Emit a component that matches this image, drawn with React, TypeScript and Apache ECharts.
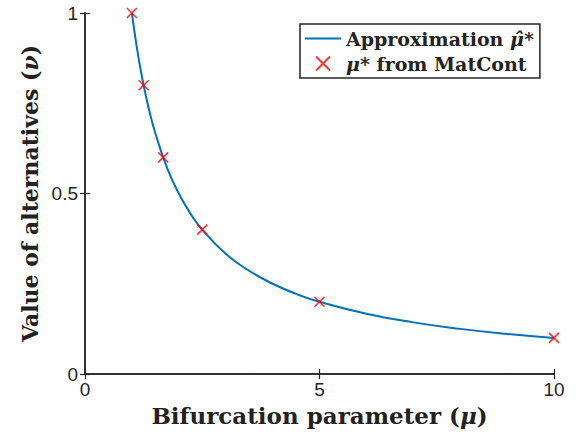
import React, { useEffect, useRef } from "react";
import * as echarts from "echarts";

// Approximation curve (mu, nu)
const curveMu = [1, 1.1, 1.2, 1.3, 1.4, 1.5, 1.75, 2, 2.25, 2.5, 3, 3.5, 4, 4.5, 5, 6, 7, 8, 9, 10];
const curveNu = [1, 0.909, 0.833, 0.769, 0.714, 0.667, 0.571, 0.5, 0.444, 0.4, 0.333, 0.286, 0.25, 0.222, 0.2, 0.167, 0.143, 0.125, 0.111, 0.1];

// MatCont points
const matMu = [1, 1.25, 1.667, 2.5, 5, 10];
const matNu = [1, 0.8, 0.6, 0.4, 0.2, 0.1];

const xTicks = [0, 5, 10];
const yTicks = [0, 0.5, 1];

const AXIS = "#262626";

export default function App() {
  const ref = useRef<HTMLDivElement>(null);
  useEffect(() => {
    document.body.style.margin = "0";
    if (!ref.current) return;
    const chart = echarts.init(ref.current, null, { renderer: "svg" });
    const tickLabel = { color: AXIS, fontFamily: "Liberation Sans", fontSize: 19 };
    const common = {
      axisLine: { show: true, lineStyle: { color: AXIS, width: 1.5 } },
      axisTick: { show: true, inside: true, length: 5, lineStyle: { color: AXIS, width: 1.2 } },
      splitLine: { show: false },
    };
    const rich = (size: number) => ({
      b: { fontFamily: "DejaVu Serif", fontWeight: "bold", fontSize: size, color: "#222" },
      i: { fontFamily: "DejaVu Serif", fontWeight: "bold", fontStyle: "italic", fontSize: size, color: "#222" },
    });
    chart.setOption({
      animation: false,
      backgroundColor: "#fff",
      grid: { left: 85, right: 25, top: 13, bottom: 61 },
      legend: {
        orient: "vertical",
        left: 300,
        top: 24,
        borderColor: AXIS,
        borderWidth: 1.5,
        padding: [5, 6, 5, 4],
        itemGap: 6,
        itemWidth: 36,
        itemHeight: 14,
        data: [
          { name: "approx", itemStyle: { opacity: 0 } },
          { name: "matcont" },
        ],
        formatter: (name: string) =>
          name === "approx"
            ? "{b|Approximation }{i|μ̂}{b|*}"
            : "{i|μ}{b|* from MatCont}",
        textStyle: { rich: rich(19) },
      },
      xAxis: [
        {
          type: "value",
          min: xTicks[0],
          max: xTicks[xTicks.length - 1],
          interval: xTicks[1] - xTicks[0],
          ...common,
          axisLabel: { ...tickLabel, margin: 6 },
          name: "{b|Bifurcation parameter (}{i|μ}{b|)}",
          nameLocation: "middle",
          nameGap: 28,
          nameTextStyle: { rich: rich(23) },
        },
        {
          type: "value",
          position: "top",
          min: xTicks[0],
          max: xTicks[xTicks.length - 1],
          interval: xTicks[1] - xTicks[0],
          ...common,
          axisLabel: { show: false },
        },
      ],
      yAxis: [
        {
          type: "value",
          min: yTicks[0],
          max: yTicks[yTicks.length - 1],
          interval: yTicks[1] - yTicks[0],
          ...common,
          axisLabel: { ...tickLabel, margin: 7 },
          name: "{b|Value of alternatives (}{i|ν}{b|)}",
          nameLocation: "middle",
          nameGap: 43,
          nameTextStyle: { rich: rich(22) },
        },
        {
          type: "value",
          position: "right",
          min: yTicks[0],
          max: yTicks[yTicks.length - 1],
          interval: yTicks[1] - yTicks[0],
          ...common,
          axisLabel: { show: false },
        },
      ],
      series: [
        {
          name: "approx",
          type: "line",
          smooth: true,
          showSymbol: false,
          symbol: "none",
          data: curveMu.map((m, i) => [m, curveNu[i]]),
          lineStyle: { color: "#0072BD", width: 2 },
          itemStyle: { color: "#0072BD" },
          z: 2,
        },
        {
          name: "matcont",
          type: "scatter",
          symbol: "path://M0,0L10,10M10,0L0,10",
          symbolSize: 10,
          data: matMu.map((m, i) => [m, matNu[i]]),
          itemStyle: { color: "none", borderColor: "#ff0000", borderWidth: 1.6 },
          z: 3,
        },
      ],
    });
    return () => chart.dispose();
  }, []);
  return <div ref={ref} style={{ width: 579, height: 435 }} />;
}
